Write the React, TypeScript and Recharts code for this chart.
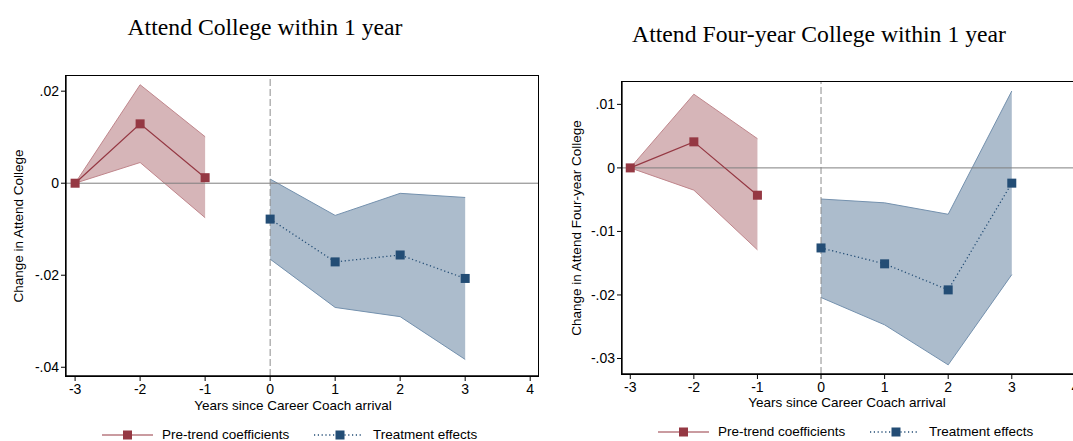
import { ComposedChart, Area, Line, XAxis, YAxis, ReferenceLine, Label } from 'recharts'

const preYears = [-3, -2, -1]
const postYears = [0, 1, 2, 3]
const xTicks = [-3, -2, -1, 0, 1, 2, 3, 4]

// Attend College within 1 year
const collegePre = [0, 0.0129, 0.0012]
const collegePreLo = [0, 0.0045, -0.0075]
const collegePreHi = [0, 0.0214, 0.0101]
const collegePost = [-0.0078, -0.0171, -0.0156, -0.0207]
const collegePostLo = [-0.0165, -0.027, -0.029, -0.0383]
const collegePostHi = [0.0009, -0.007, -0.0022, -0.0031]
const collegeTicks = [-0.04, -0.02, 0, 0.02]

// Attend Four-year College within 1 year
const fourPre = [0, 0.0041, -0.0043]
const fourPreLo = [0, -0.0035, -0.0129]
const fourPreHi = [0, 0.0116, 0.0046]
const fourPost = [-0.0126, -0.0151, -0.0192, -0.0024]
const fourPostLo = [-0.0204, -0.0247, -0.031, -0.0168]
const fourPostHi = [-0.0049, -0.0055, -0.0073, 0.0121]
const fourTicks = [-0.03, -0.02, -0.01, 0, 0.01]

const RED = '#953843'
const RED_FILL = '#d6b5b8'
const RED_EDGE = '#c0868c'
const BLUE = '#234d75'
const BLUE_FILL = '#acbccc'
const BLUE_EDGE = '#7491ae'
const SANS = '"Liberation Sans", Arial, sans-serif'
const SERIF = '"Liberation Serif", "Times New Roman", serif'

function buildRows(pre: number[], preLo: number[], preHi: number[], post: number[], postLo: number[], postHi: number[]) {
  const rows: any[] = preYears.map((x, i) => ({ x, pre: pre[i], preBand: [preLo[i], preHi[i]] }))
  postYears.forEach((x, i) => rows.push({ x, post: post[i], postBand: [postLo[i], postHi[i]] }))
  return rows
}

const squareDot = (color: string) => (props: any) => {
  const { cx, cy, index } = props
  if (cx == null || cy == null || isNaN(cy)) return <g key={index} />
  return <rect key={index} x={cx - 4.5} y={cy - 4.5} width={9} height={9} fill={color} />
}

const fmtY = (v: number) => (v === 0 ? '0' : v.toFixed(2).replace('0.', '.'))

interface PanelProps {
  rows: any[]
  ticks: number[]
  yDomain: [number, number]
  xDomain: [number, number]
  width: number
  top: number
  yAxisWidth: number
  xAxisHeight: number
  yLabel: string
  yLabelDx: number
  xLabelDx: number
  xLabelDy: number
}

function Panel(p: PanelProps) {
  return (
    <ComposedChart width={p.width} height={441} data={p.rows} margin={{ top: p.top, right: 2, bottom: 0, left: 0 }}>
      <XAxis
        type="number"
        dataKey="x"
        domain={p.xDomain}
        ticks={xTicks}
        interval={0}
        allowDataOverflow
        height={p.xAxisHeight}
        tickSize={5}
        tickMargin={3}
        axisLine={{ stroke: '#000', strokeWidth: 1.3 }}
        tickLine={{ stroke: '#000' }}
        tick={{ fill: '#000', fontSize: 14, fontFamily: SANS }}
      >
        <Label
          content={({ viewBox }: any) => (
            <text
              x={viewBox.x + viewBox.width / 2 + p.xLabelDx}
              y={viewBox.y + p.xLabelDy}
              textAnchor="middle"
              fontSize={13.5}
              fontFamily={SANS}
              fill="#000"
            >
              Years since Career Coach arrival
            </text>
          )}
        />
      </XAxis>
      <YAxis
        type="number"
        domain={p.yDomain}
        ticks={p.ticks}
        interval={0}
        allowDataOverflow
        width={p.yAxisWidth}
        tickFormatter={fmtY}
        tickSize={5}
        tickMargin={2}
        axisLine={{ stroke: '#000', strokeWidth: 1.3 }}
        tickLine={{ stroke: '#000' }}
        tick={{ fill: '#000', fontSize: 14, fontFamily: SANS }}
      >
        <Label
          content={({ viewBox }: any) => {
            const x = viewBox.x + p.yLabelDx
            const y = viewBox.y + viewBox.height / 2
            return (
              <text x={x} y={y} transform={`rotate(-90 ${x} ${y})`} textAnchor="middle" dominantBaseline="central" fontSize={13.5} fontFamily={SANS} fill="#000">
                {p.yLabel}
              </text>
            )
          }}
        />
      </YAxis>
      <Area dataKey="preBand" type="linear" fill={RED_FILL} fillOpacity={1} stroke={RED_EDGE} strokeWidth={1} isAnimationActive={false} activeDot={false} />
      <Area dataKey="postBand" type="linear" fill={BLUE_FILL} fillOpacity={1} stroke={BLUE_EDGE} strokeWidth={1} isAnimationActive={false} activeDot={false} />
      <ReferenceLine y={0} stroke="#7f7f7f" strokeWidth={1} />
      <ReferenceLine x={0} stroke="#8c8c8c" strokeWidth={1} strokeDasharray="7 3" />
      <Line dataKey="pre" type="linear" stroke={RED} strokeWidth={1.2} dot={squareDot(RED)} activeDot={false} isAnimationActive={false} />
      <Line dataKey="post" type="linear" stroke={BLUE} strokeWidth={1.3} strokeDasharray="1.2 2.6" dot={squareDot(BLUE)} activeDot={false} isAnimationActive={false} />
    </ComposedChart>
  )
}

function LegendRow({ left, top }: { left: number; top: number }) {
  const text = { position: 'absolute' as const, top: top - 9, fontSize: 13.5, fontFamily: SANS, color: '#000', whiteSpace: 'nowrap' as const, lineHeight: '18px' }
  return (
    <>
      <svg style={{ position: 'absolute', left, top: top - 6 }} width={262} height={12}>
        <line x1={0} x2={51} y1={6} y2={6} stroke={RED} strokeWidth={1.2} />
        <rect x={21} y={1.5} width={9} height={9} fill={RED} />
        <line x1={212} x2={261} y1={6} y2={6} stroke={BLUE} strokeWidth={1.3} strokeDasharray="1.2 2.6" />
        <rect x={233.5} y={1.5} width={9} height={9} fill={BLUE} />
      </svg>
      <div style={{ ...text, left: left + 60 }}>Pre-trend coefficients</div>
      <div style={{ ...text, left: left + 271 }}>Treatment effects</div>
    </>
  )
}

function PlotBox({ left, top, width, height }: { left: number; top: number; width: number; height: number }) {
  return (
    <div
      style={{
        position: 'absolute',
        left: left - 0.65,
        top: top - 0.65,
        width,
        height,
        border: '1.3px solid #000',
        pointerEvents: 'none',
      }}
    />
  )
}

export default function App() {
  const collegeRows = buildRows(collegePre, collegePreLo, collegePreHi, collegePost, collegePostLo, collegePostHi)
  const fourRows = buildRows(fourPre, fourPreLo, fourPreHi, fourPost, fourPostLo, fourPostHi)
  const title = { position: 'absolute' as const, fontFamily: SERIF, fontSize: 23.7, color: '#000', whiteSpace: 'nowrap' as const, transform: 'translate(-50%, -50%)' }

  return (
    <div style={{ position: 'fixed', left: 0, top: 0, width: 1073, height: 441, overflow: 'hidden', background: '#fff' }}>
      <div style={{ ...title, left: 265, top: 27 }}>Attend College within 1 year</div>
      <div style={{ ...title, left: 819, top: 34 }}>Attend Four-year College within 1 year</div>

      <div style={{ position: 'absolute', left: 0, top: 0 }}>
        <Panel
          rows={collegeRows}
          ticks={collegeTicks}
          yDomain={[-0.0419, 0.0233]}
          xDomain={[-3.14, 4.12]}
          width={540}
          top={76}
          yAxisWidth={66}
          xAxisHeight={65}
          yLabel="Change in Attend College"
          yLabelDx={18}
          xLabelDx={-9}
          xLabelDy={34}
        />
      </div>
      <PlotBox left={66} top={76} width={472} height={300} />

      <div style={{ position: 'absolute', left: 540, top: 0 }}>
        <Panel
          rows={fourRows}
          ticks={fourTicks}
          yDomain={[-0.03244, 0.01352]}
          xDomain={[-3.13, 4.12]}
          width={545}
          top={82}
          yAxisWidth={82}
          xAxisHeight={67}
          yLabel="Change in Attend Four-year College"
          yLabelDx={36}
          xLabelDx={-5.5}
          xLabelDy={33}
        />
      </div>
      <PlotBox left={622} top={82} width={461} height={292} />

      <LegendRow left={102} top={435} />
      <LegendRow left={658} top={432} />
    </div>
  )
}
